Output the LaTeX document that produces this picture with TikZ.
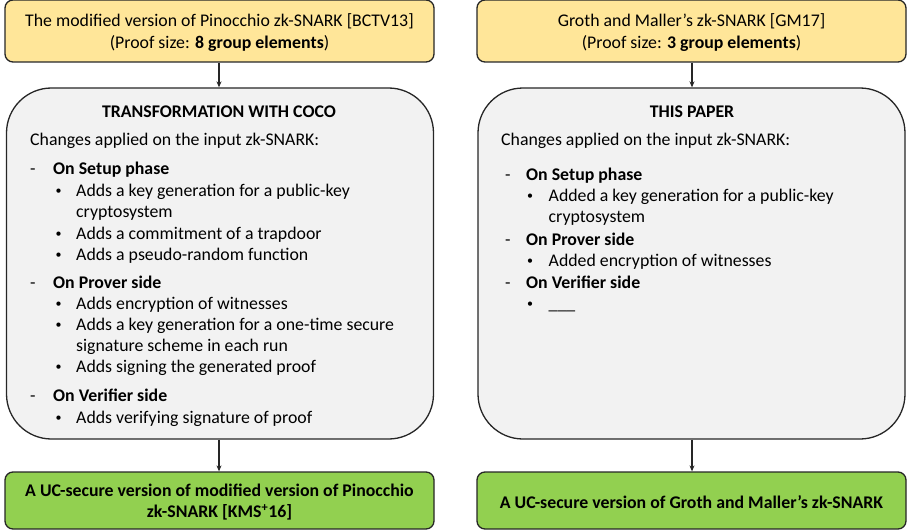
\documentclass[tikz,border=0pt]{standalone}
\usepackage{fontspec}
\setmainfont{Carlito}
\usetikzlibrary{arrows.meta}
\definecolor{topyel}{HTML}{FFE699}
\definecolor{midgray}{HTML}{F2F2F2}
\definecolor{botgreen}{HTML}{92D050}
\begin{document}
\begin{tikzpicture}[x=1pt,y=-1pt,
  every node/.style={font=\fontsize{17.8}{21.5}\selectfont},
  box/.style={draw=black!85, line width=1.3pt, inner sep=0pt, rounded corners=8pt},
  topbox/.style={box, fill=topyel, minimum width=429pt, minimum height=62pt},
  midbox/.style={box, fill=midgray, rounded corners=45pt, minimum width=427pt, minimum height=351pt},
  botbox/.style={box, fill=botgreen, minimum width=429pt, minimum height=57pt},
  ln/.style={anchor=west, inner sep=0pt, text height=11pt, text depth=4pt, yshift=-1.5pt},
  bul/.style={inner sep=0pt, font=\fontsize{12}{12}\selectfont, yshift=-1pt},
  bold/.style={font=\fontsize{17.8}{21.5}\selectfont\bfseries},
  ctr/.style={align=center, inner sep=0pt, yshift=-1.5pt},
  arr/.style={-{Stealth[length=6pt,width=5pt]}, line width=1.3pt, draw=black!85}
]
\useasboundingbox (0,0) rectangle (910,532);

% boxes
\node[topbox] (TL) at (219.5,31) {};
\node[topbox] (TR) at (691.5,31) {};
\node[midbox] (ML) at (220,263.5) {};
\node[midbox] (MR) at (691.5,263.5) {};
\node[botbox] (BL) at (219.5,500.5) {};
\node[botbox] (BR) at (691.5,500.5) {};

% top texts
\node[ctr] (tlt) at (219.5,31) {The modified version of Pinocchio zk-SNARK [BCTV13]\\(Proof size: \textbf{8 group elements})};
\node[ctr] (trt) at (691.5,31) {Groth and Maller’s zk-SNARK [GM17]\\(Proof size: \textbf{3 group elements})};

% bottom texts
\node[ctr,bold] (blt) at (219.5,500.5) {A UC-secure version of modified version of Pinocchio\\zk-SNARK [KMS\textsuperscript{+}16]};
\node[ctr,bold] (brt) at (691.5,500.5) {A UC-secure version of Groth and Maller’s zk-SNARK};

% arrows
\draw[arr] (TL.south -| 219,0) -- (ML.north -| 219,0);
\draw[arr] (TR.south -| 692,0) -- (MR.north -| 692,0);
\draw[arr] (ML.south -| 219,0) -- (BL.north -| 219,0);
\draw[arr] (MR.south -| 692,0) -- (BR.north -| 692,0);

% left box contents
\node[ctr,bold] (Lh) at (219,110) {TRANSFORMATION WITH COCO};
\node[ln] (L0) at (30,141) {Changes applied on the input zk-SNARK:};
\node[ln] (L1d) at (30,170) {-};
\node[ln] (L1) at (53,170) {\textbf{On Setup phase}};
\node[bul] (L1a) at (58.5,191) {•};
\node[ln] (L1at) at (76,191) {Adds a key generation for a public-key};
\node[ln] (L1bt) at (76,212) {cryptosystem};
\node[bul] (L1c) at (58.5,234) {•};
\node[ln] (L1ct) at (76,234) {Adds a commitment of a trapdoor};
\node[bul] (L1e) at (58.5,255) {•};
\node[ln] (L1et) at (76,255) {Adds a pseudo-random function};
\node[ln] (L2d) at (30,283) {-};
\node[ln] (L2) at (53,283) {\textbf{On Prover side}};
\node[bul] (L2a) at (58.5,304) {•};
\node[ln] (L2at) at (76,304) {Adds encryption of witnesses};
\node[bul] (L2b) at (58.5,325) {•};
\node[ln] (L2bt) at (76,325) {Adds a key generation for a one-time secure};
\node[ln] (L2ct) at (76,346) {signature scheme in each run};
\node[bul] (L2e) at (58.5,367) {•};
\node[ln] (L2et) at (76,367) {Adds signing the generated proof};
\node[ln] (L3d) at (30,396) {-};
\node[ln] (L3) at (53,396) {\textbf{On Verifier side}};
\node[bul] (L3a) at (58.5,418) {•};
\node[ln] (L3at) at (76,418) {Adds verifying signature of proof};

% right box contents
\node[ctr,bold] (Rh) at (692,110) {THIS PAPER};
\node[ln] (R0) at (501,141) {Changes applied on the input zk-SNARK:};
\node[ln] (R1d) at (505,175) {-};
\node[ln] (R1) at (526,175) {\textbf{On Setup phase}};
\node[bul] (R1a) at (530,196) {•};
\node[ln] (R1at) at (548.5,196) {Added a key generation for a public-key};
\node[ln] (R1bt) at (548.5,217) {cryptosystem};
\node[ln] (R2d) at (505,240) {-};
\node[ln] (R2) at (526,240) {\textbf{On Prover side}};
\node[bul] (R2a) at (530,261) {•};
\node[ln] (R2at) at (548.5,261) {Added encryption of witnesses};
\node[ln] (R3d) at (505,283) {-};
\node[ln] (R3) at (526,283) {\textbf{On Verifier side}};
\node[bul] (R3a) at (530,304) {•};
\node[ln] (R3at) at (548.5,304) {\_\_\_};
\end{tikzpicture}
\end{document}
